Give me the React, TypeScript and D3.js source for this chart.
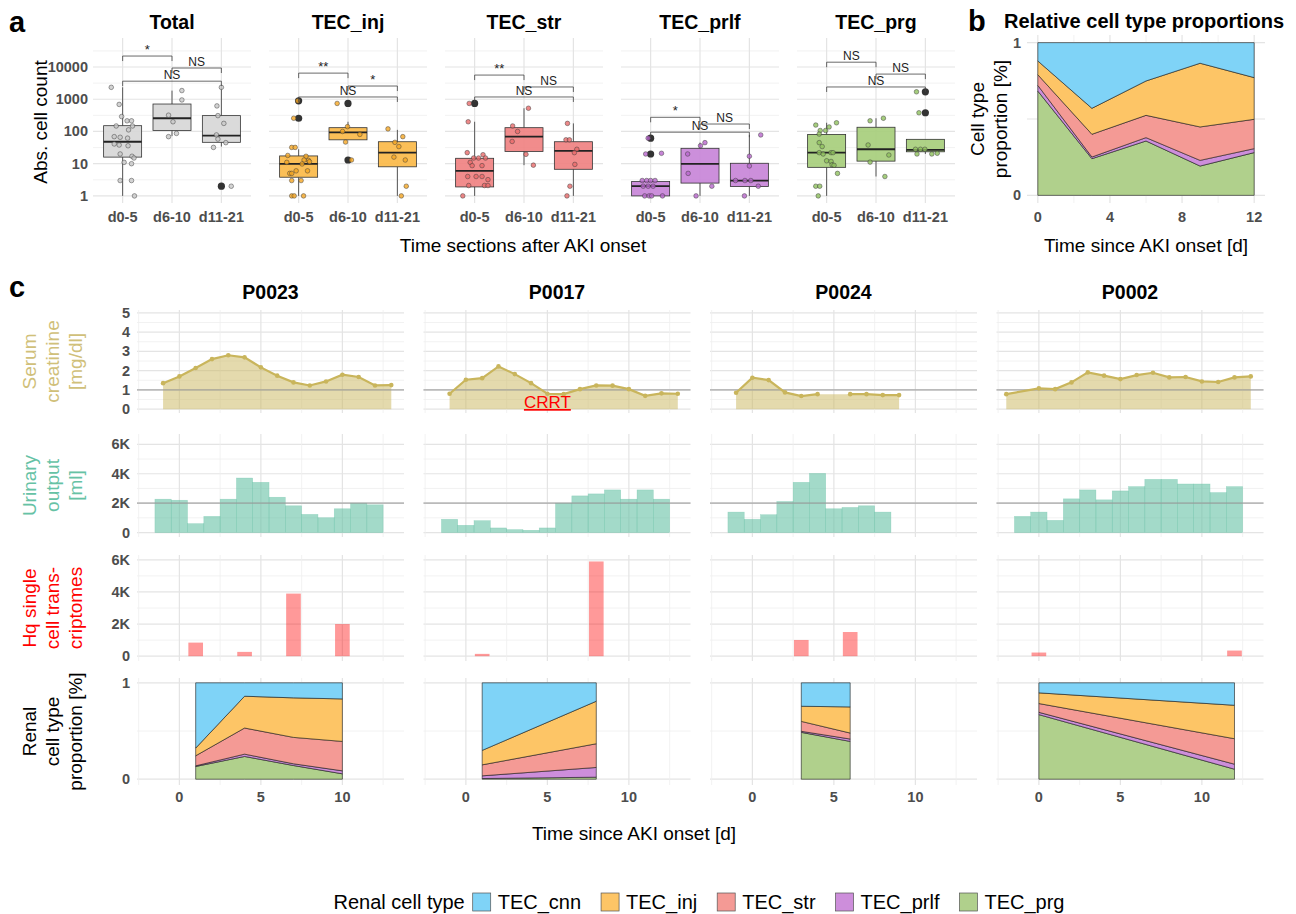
import React from 'react';
import * as d3 from 'd3';

const FONT = '"Liberation Sans", Arial, Helvetica, sans-serif';
const TICK_COLOR = '#4d4d4d';
const GRID_MAJOR = '#e4e4e4';
const GRID_MINOR = '#efefef';

// ---------------- Panel a data ----------------
const BOX_PANELS = ['Total', 'TEC_inj', 'TEC_str', 'TEC_prlf', 'TEC_prg'];
const TIME_GROUPS = ['d0-5', 'd6-10', 'd11-21'];
const LOG_TICKS = [1, 10, 100, 1000, 10000];
const LOG_MINOR = [10 ** 0.5, 10 ** 1.5, 10 ** 2.5, 10 ** 3.5, 10 ** 4.5];
const BOX_FILL = ['#d6d6d6', '#fbb845', '#ef7f7f', '#c683d7', '#a5cd79'];
const POINT_FILL = ['#c8c8c8', '#f5a623', '#e96a6a', '#b865cc', '#8fc05c'];

type Box = { lo: number; q1: number; med: number; q3: number; hi: number; out: number[] };

const BOX_TOTAL: Box[] = [
  { lo: 1, q1: 16, med: 48, q3: 151, hi: 2350, out: [] },
  { lo: 72, q1: 107, med: 257, q3: 710, hi: 1850, out: [] },
  { lo: 34, q1: 46, med: 74, q3: 310, hi: 2350, out: [2] },
];
const BOX_INJ: Box[] = [
  { lo: 1, q1: 3.8, med: 9.8, q3: 17.4, hi: 28, out: [890, 257] },
  { lo: 55, q1: 55, med: 94, q3: 131, hi: 200, out: [740, 13] },
  { lo: 1, q1: 8, med: 22, q3: 48, hi: 112, out: [] },
];
const BOX_STR: Box[] = [
  { lo: 1, q1: 1.9, med: 6, q3: 14.7, hi: 200, out: [740] },
  { lo: 9, q1: 24, med: 69, q3: 131, hi: 525, out: [] },
  { lo: 1, q1: 6.7, med: 25, q3: 48, hi: 178, out: [] },
];
const BOX_PRLF: Box[] = [
  { lo: 1, q1: 1, med: 2, q3: 2.8, hi: 3, out: [62, 20] },
  { lo: 1, q1: 2.5, med: 9.8, q3: 30, hi: 45, out: [] },
  { lo: 1, q1: 1.95, med: 3, q3: 10.3, hi: 78, out: [] },
];
const BOX_PRG: Box[] = [
  { lo: 1, q1: 7.7, med: 22, q3: 81, hi: 186, out: [] },
  { lo: 4, q1: 12, med: 28, q3: 135, hi: 257, out: [] },
  { lo: 20, q1: 23.4, med: 27, q3: 57, hi: 57, out: [1700, 380] },
];

// jittered points: [horizontal jitter (fraction of category spacing), count]
const PTS_TOTAL: [number, number][][] = [
  [[-0.23, 2340], [-0.07, 690], [-0.02, 290], [-0.13, 148], [0.09, 214], [0.18, 214], [0.2, 148], [0.12, 112], [-0.17, 69], [-0.05, 66], [0.1, 62], [-0.17, 41], [-0.07, 38], [0.11, 36], [-0.05, 20], [0.19, 17], [0.23, 15], [0.03, 11], [0.18, 10], [-0.05, 3], [0.18, 3], [0.24, 1]],
  [[0.2, 1860], [0.2, 950], [-0.07, 320], [0.02, 200], [0.09, 87], [-0.07, 69]],
  [[0, 2340], [-0.09, 620], [-0.07, 310], [0.05, 178], [-0.1, 78], [-0.07, 58], [0.09, 45], [-0.16, 32], [0.2, 2]],
];
const PTS_INJ: [number, number][][] = [
  [[-0.02, 890], [-0.1, 257], [-0.14, 32], [-0.07, 32], [-0.22, 18], [0.15, 17], [0.2, 12.6], [0.11, 13], [0.07, 9.8], [-0.24, 11], [0.22, 11.5], [-0.05, 6], [-0.18, 5], [-0.14, 5], [0.18, 6], [-0.14, 3], [0.05, 3], [-0.14, 1], [-0.09, 1], [0.1, 1]],
  [[-0.22, 740], [-0.01, 141], [-0.11, 100], [0.24, 81], [-0.05, 47], [0.07, 13]],
  [[-0.19, 120], [-0.05, 46], [0.11, 69], [0.03, 34], [-0.07, 16], [0.16, 13], [0.18, 2], [0.08, 1]],
];
const PTS_STR: [number, number][][] = [
  [[-0.11, 740], [-0.13, 200], [-0.15, 22], [0.17, 19], [0.22, 15], [-0.02, 15], [0.08, 15], [-0.09, 11], [0.15, 8.7], [-0.05, 8.7], [-0.14, 4], [0.03, 4], [0.15, 4], [0.27, 3.2], [-0.12, 2.1], [0.2, 2.1], [0.27, 2.1], [-0.24, 1]],
  [[0.09, 525], [-0.23, 148], [-0.13, 100], [-0.24, 49], [0.04, 19.5], [0.19, 9]],
  [[-0.12, 178], [-0.15, 55], [-0.08, 55], [0.07, 28], [0.02, 22], [0.03, 9.5], [-0.07, 2], [-0.13, 1]],
];
const PTS_PRLF: [number, number][][] = [
  [[-0.05, 62], [-0.1, 20], [0.22, 21], [-0.17, 3], [-0.08, 3], [0, 3], [0.09, 3], [-0.15, 2], [-0.05, 2], [0.05, 2], [-0.12, 1], [-0.03, 1], [0.02, 1], [0.24, 1]],
  [[0.1, 45], [0.01, 36], [-0.25, 20], [-0.24, 5], [0.24, 2], [-0.08, 1]],
  [[0.23, 78], [0, 17], [0, 8.5], [-0.28, 3], [-0.09, 3], [0.03, 3], [0.18, 2], [-0.1, 1]],
];
const PTS_PRG: [number, number][][] = [
  [[0.2, 186], [-0.22, 158], [0.05, 138], [-0.13, 107], [-0.02, 107], [-0.15, 83], [-0.15, 45], [-0.09, 34], [-0.15, 22], [-0.07, 20], [0.09, 22], [0.13, 22], [0, 12.3], [0.09, 11.7], [0.11, 9.3], [0.15, 8.9], [0.22, 5], [-0.22, 2], [-0.14, 2], [-0.17, 1]],
  [[-0.12, 214], [0.15, 257], [-0.16, 38], [0.26, 18.6], [-0.12, 11.2], [0.18, 4]],
  [[-0.18, 1700], [-0.13, 380], [-0.2, 28], [-0.1, 28], [-0.01, 28], [-0.17, 20], [0.13, 20], [0.24, 21]],
];

// significance brackets: [from group, to group, label, level (count)]
const SIG_TOTAL: [number, number, string, number][] = [[0, 1, '*', 21900], [1, 2, 'NS', 9300], [0, 2, 'NS', 3630]];
const SIG_INJ: [number, number, string, number][] = [[0, 1, '**', 6460], [1, 2, '*', 2570], [0, 2, 'NS', 1175]];
const SIG_STR: [number, number, string, number][] = [[0, 1, '**', 5620], [1, 2, 'NS', 2400], [0, 2, 'NS', 1175]];
const SIG_PRLF: [number, number, string, number][] = [[0, 1, '*', 275], [1, 2, 'NS', 170], [0, 2, 'NS', 95]];
const SIG_PRG: [number, number, string, number][] = [[0, 1, 'NS', 14100], [1, 2, 'NS', 6030], [0, 2, 'NS', 2400]];

const BOXES = [BOX_TOTAL, BOX_INJ, BOX_STR, BOX_PRLF, BOX_PRG];
const POINTS = [PTS_TOTAL, PTS_INJ, PTS_STR, PTS_PRLF, PTS_PRG];
const SIGS = [SIG_TOTAL, SIG_INJ, SIG_STR, SIG_PRLF, SIG_PRG];

// ---------------- Cell types ----------------
const CELL_TYPES = ['TEC_cnn', 'TEC_inj', 'TEC_str', 'TEC_prlf', 'TEC_prg'];
const CELL_COLORS = ['#7fd3f7', '#fdc566', '#f49a95', '#cd8edb', '#b0d08c'];
const STACK_KEYS = ['TEC_prg', 'TEC_prlf', 'TEC_str', 'TEC_inj', 'TEC_cnn'];
const colorOf = (k: string) => CELL_COLORS[CELL_TYPES.indexOf(k)];

// ---------------- Panel b data ----------------
// rows: [day, prg, prlf, str, inj, cnn]
const PROP_ALL: number[][] = [
  [0, 0.683, 0.037, 0.07, 0.09, 0.12],
  [3, 0.24, 0.011, 0.149, 0.17, 0.43],
  [6, 0.356, 0.022, 0.146, 0.225, 0.251],
  [9, 0.192, 0.037, 0.219, 0.417, 0.135],
  [12, 0.28, 0.026, 0.192, 0.273, 0.229],
];
const B_X_TICKS = [0, 4, 8, 12];
const B_X_MINOR = [2, 6, 10];

// ---------------- Panel c data ----------------
const PATIENTS = ['P0023', 'P0017', 'P0024', 'P0002'];

const CREA_P0023: [number, number | null][] = [[-1, 1.35], [0, 1.70], [1, 2.14], [2, 2.60], [3, 2.80], [4, 2.69], [5, 2.17], [6, 1.74], [7, 1.39], [8, 1.23], [9, 1.44], [10, 1.79], [11, 1.67], [12, 1.23], [13, 1.25]];
const CREA_P0017: [number, number | null][] = [[-1, 0.80], [0, 1.53], [1, 1.61], [2, 2.22], [3, 1.82], [4, 1.35], [5, 0.80], [6, 0.78], [7, 1.04], [8, 1.23], [9, 1.22], [10, 1.04], [11, 0.69], [12, 0.82], [13, 0.80]];
const CREA_P0024: [number, number | null][] = [[-1, 0.85], [0, 1.63], [1, 1.51], [2, 0.87], [3, 0.68], [4, 0.78], [5, null], [6, 0.78], [7, 0.78], [8, 0.73], [9, 0.73]];
const CREA_P0002: [number, number | null][] = [[-2, 0.78], [0, 1.08], [1, 1.04], [2, 1.39], [3, 1.91], [4, 1.74], [5, 1.56], [6, 1.77], [7, 1.89], [8, 1.65], [9, 1.67], [10, 1.44], [11, 1.41], [12, 1.65], [13, 1.70]];

const URINE_P0023: [number, number][] = [[-1, 2270], [0, 2200], [1, 607], [2, 1100], [3, 2270], [4, 3708], [5, 3416], [6, 2404], [7, 1820], [8, 1236], [9, 1011], [10, 1618], [11, 2000], [12, 1888]];
const URINE_P0017: [number, number][] = [[-1, 900], [0, 494], [1, 809], [2, 315], [3, 202], [4, 157], [5, 315], [6, 2000], [7, 2494], [8, 2629], [9, 2900], [10, 2270], [11, 2900], [12, 2270]];
const URINE_P0024: [number, number][] = [[-1, 1393], [0, 900], [1, 1213], [2, 2112], [3, 3416], [4, 4022], [5, 1618], [6, 1708], [7, 1820], [8, 1393]];
const URINE_P0002: [number, number][] = [[-1, 1100], [0, 1393], [1, 831], [2, 2292], [3, 2900], [4, 2225], [5, 2831], [6, 3124], [7, 3618], [8, 3618], [9, 3303], [10, 3303], [11, 2719], [12, 3124]];

const HQ_P0023: [number, number][] = [[1, 845], [4, 268], [7, 3897], [10, 2000]];
const HQ_P0017: [number, number][] = [[1, 144], [8, 5897]];
const HQ_P0024: [number, number][] = [[3, 1010], [6, 1505]];
const HQ_P0002: [number, number][] = [[0, 227], [12, 350]];

// rows: [day, prg, prlf, str, inj, cnn]
const PROP_P0023: number[][] = [
  [1, 0.132, 0.007, 0.104, 0.08, 0.677],
  [4, 0.236, 0.024, 0.271, 0.33, 0.139],
  [7, 0.142, 0.018, 0.274, 0.41, 0.156],
  [10, 0.056, 0.031, 0.305, 0.441, 0.167],
];
const PROP_P0017: number[][] = [
  [1, 0.007, 0.028, 0.114, 0.15, 0.701],
  [8, 0.021, 0.101, 0.246, 0.441, 0.191],
];
const PROP_P0024: number[][] = [
  [3, 0.486, 0.011, 0.103, 0.157, 0.243],
  [6, 0.392, 0.025, 0.062, 0.271, 0.25],
];
const PROP_P0002: number[][] = [
  [0, 0.67, 0.024, 0.091, 0.111, 0.104],
  [12, 0.104, 0.052, 0.264, 0.347, 0.233],
];

const CREA = [CREA_P0023, CREA_P0017, CREA_P0024, CREA_P0002];
const URINE = [URINE_P0023, URINE_P0017, URINE_P0024, URINE_P0002];
const HQ = [HQ_P0023, HQ_P0017, HQ_P0024, HQ_P0002];
const PROPS = [PROP_P0023, PROP_P0017, PROP_P0024, PROP_P0002];

const C_X_MAJOR = [0, 5, 10];
const C_X_MINOR = [-2.5, 2.5, 7.5, 12.5];
const CREA_TICKS = [0, 1, 2, 3, 4, 5];
const CREA_MINOR = [0.5, 1.5, 2.5, 3.5, 4.5];
const K_TICKS = [0, 2000, 4000, 6000];
const K_MINOR = [1000, 3000, 5000];
const PROP_TICKS = [0, 1];
const PROP_MINOR = [0.5];

const CREA_COLOR = '#c9b55c';
const URINE_COLOR = '#66c2a5';
const HQ_COLOR = '#ff0000';

const ROW_LABELS = [
  { lines: ['Serum', 'creatinine', '[mg/dl]'], color: '#d0c07a' },
  { lines: ['Urinary', 'output', '[ml]'], color: '#66c2a5' },
  { lines: ['Hq single', 'cell trans-', 'criptomes'], color: '#ff0000' },
  { lines: ['Renal', 'cell type', 'proportion [%]'], color: '#000000' },
];

const kfmt = (v: number) => (v === 0 ? '0' : `${v / 1000}K`);

function toStack(rows: number[][]) {
  const objs = rows.map((r) => {
    const o: any = { day: r[0] };
    STACK_KEYS.forEach((k, i) => (o[k] = r[i + 1]));
    return o;
  });
  return d3.stack().keys(STACK_KEYS)(objs as any);
}

// ---------------- Panel a ----------------
function BoxPanel({ i }: { i: number }) {
  const left = 93 + i * 176;
  const width = 158;
  const x = d3.scaleLinear().domain([0.4, 3.6]).range([left, left + width]);
  const y = d3.scaleLog().domain([10 ** -0.22, 10 ** 4.9]).range([203, 38]);
  const step = x(2) - x(1);
  const half = 0.385 * step;
  const boxes = BOXES[i];
  const pts = POINTS[i];
  return (
    <g>
      {LOG_MINOR.map((v) => (
        <line key={'mn' + v} x1={left} x2={left + width} y1={y(v)} y2={y(v)} stroke={GRID_MINOR} strokeWidth={0.8} />
      ))}
      {LOG_TICKS.map((v) => (
        <line key={'mj' + v} x1={left} x2={left + width} y1={y(v)} y2={y(v)} stroke={GRID_MAJOR} strokeWidth={1.2} />
      ))}
      {TIME_GROUPS.map((g, gi) => (
        <line key={g} x1={x(gi + 1)} x2={x(gi + 1)} y1={38} y2={203} stroke={GRID_MAJOR} strokeWidth={1.2} />
      ))}
      <text x={left + width / 2} y={29} textAnchor="middle" fontWeight="bold" fontSize={19.5} fill="#000">
        {BOX_PANELS[i]}
      </text>
      {i === 0 &&
        LOG_TICKS.map((v) => (
          <text key={'yl' + v} x={88} y={y(v) + 5} textAnchor="end" fontWeight="bold" fontSize={14.5} fill={TICK_COLOR}>
            {v}
          </text>
        ))}
      {TIME_GROUPS.map((g, gi) => (
        <text key={'xl' + g} x={x(gi + 1)} y={222} textAnchor="middle" fontWeight="bold" fontSize={14.5} fill={TICK_COLOR}>
          {g}
        </text>
      ))}
      {boxes.map((b, gi) => {
        const cx = x(gi + 1);
        return (
          <g key={'b' + gi}>
            <line x1={cx} x2={cx} y1={y(b.q3)} y2={y(b.hi)} stroke="#333" strokeWidth={0.8} />
            <line x1={cx} x2={cx} y1={y(b.q1)} y2={y(b.lo)} stroke="#333" strokeWidth={0.8} />
            <rect x={cx - half} y={y(b.q3)} width={2 * half} height={Math.max(0.5, y(b.q1) - y(b.q3))} fill={BOX_FILL[i]} fillOpacity={0.9} stroke="#333" strokeWidth={0.8} />
            <line x1={cx - half} x2={cx + half} y1={y(b.med)} y2={y(b.med)} stroke="#222" strokeWidth={1.8} />
            {b.out.map((o, oi) => (
              <circle key={oi} cx={cx} cy={y(o)} r={3.6} fill="#333" />
            ))}
          </g>
        );
      })}
      {pts.map((grp, gi) =>
        grp.map(([jx, v], pi) => (
          <circle key={gi + '-' + pi} cx={x(gi + 1 + jx)} cy={y(v)} r={2.3} fill={POINT_FILL[i]} fillOpacity={0.8} stroke="#3a3a3a" strokeOpacity={0.8} strokeWidth={0.6} />
        ))
      )}
      {SIGS[i].map(([a, b, lab, lv], si) => {
        const yy = y(lv);
        const x1 = x(a + 1);
        const x2 = x(b + 1);
        return (
          <g key={'s' + si}>
            <path d={`M${x1},${yy + 5}V${yy}H${x2}V${yy + 5}`} fill="none" stroke="#444" strokeWidth={0.8} />
            <text x={(x1 + x2) / 2} y={yy - 2} textAnchor="middle" fontSize={lab === 'NS' ? 12 : 13} fill="#222">
              {lab}
            </text>
          </g>
        );
      })}
    </g>
  );
}

// ---------------- Panel b ----------------
function PanelB() {
  const x = d3.scaleLinear().domain([-0.6, 12.6]).range([1027, 1265]);
  const y = d3.scaleLinear().domain([-0.05, 1.05]).range([203, 35]);
  const series = toStack(PROP_ALL);
  const area = d3
    .area<any>()
    .x((d) => x(d.data.day))
    .y0((d) => y(d[0]))
    .y1((d) => y(d[1]));
  return (
    <g>
      {[0, 0.5, 1].map((v) => (
        <line key={'hj' + v} x1={1027} x2={1265} y1={y(v)} y2={y(v)} stroke={GRID_MAJOR} strokeWidth={1.2} />
      ))}
      {B_X_MINOR.map((v) => (
        <line key={'vm' + v} x1={x(v)} x2={x(v)} y1={35} y2={203} stroke={GRID_MINOR} strokeWidth={0.8} />
      ))}
      {B_X_TICKS.map((v) => (
        <line key={'vj' + v} x1={x(v)} x2={x(v)} y1={35} y2={203} stroke={GRID_MAJOR} strokeWidth={1.2} />
      ))}
      {series.map((s: any) => (
        <path key={s.key} d={area(s) || ''} fill={colorOf(s.key)} stroke="#1a1a1a" strokeWidth={0.6} strokeLinejoin="round" />
      ))}
      {[0, 1].map((v) => (
        <text key={'yl' + v} x={1021} y={y(v) + 5} textAnchor="end" fontWeight="bold" fontSize={14.5} fill={TICK_COLOR}>
          {v}
        </text>
      ))}
      {B_X_TICKS.map((v) => (
        <text key={'xl' + v} x={x(v)} y={222} textAnchor="middle" fontWeight="bold" fontSize={14.5} fill={TICK_COLOR}>
          {v}
        </text>
      ))}
      <text x={968} y={31} fontWeight="bold" fontSize={29} fill="#000">b</text>
      <text x={1004} y={28} fontWeight="bold" fontSize={20} fill="#000">Relative cell type proportions</text>
      <text transform={`translate(977,119) rotate(-90)`} textAnchor="middle" dominantBaseline="central" fontSize={19} fill="#000">
        Cell type
      </text>
      <text transform={`translate(1000,119) rotate(-90)`} textAnchor="middle" dominantBaseline="central" fontSize={19} fill="#000">
        proportion [%]
      </text>
      <text x={1146} y={252} textAnchor="middle" fontSize={19} fill="#000">
        Time since AKI onset [d]
      </text>
    </g>
  );
}

// ---------------- Panel c ----------------
const ROWS = [
  { domain: [-0.2, 5.15], range: [413, 310], ticks: CREA_TICKS, minor: CREA_MINOR, fmt: (v: number) => String(v) },
  { domain: [-300, 6700], range: [537, 434], ticks: K_TICKS, minor: K_MINOR, fmt: kfmt },
  { domain: [-300, 6300], range: [661, 555], ticks: K_TICKS, minor: K_MINOR, fmt: kfmt },
  { domain: [-0.06, 1.05], range: [785, 678], ticks: PROP_TICKS, minor: PROP_MINOR, fmt: (v: number) => String(v) },
];

function PatientColumn({ j }: { j: number }) {
  const left = 137 + j * 286.5;
  const width = 267;
  const x = d3.scaleLinear().domain([-2.6, 13.78]).range([left, left + width]);
  const ys = ROWS.map((r) => d3.scaleLinear().domain(r.domain).range(r.range));

  const crea = CREA[j];
  const creaDefined = crea.filter((d) => d[1] !== null) as [number, number][];
  const creaArea = d3
    .area<[number, number]>()
    .x((d) => x(d[0]))
    .y0(ys[0](0))
    .y1((d) => ys[0](d[1]));
  const creaLine = d3
    .line<[number, number | null]>()
    .defined((d) => d[1] !== null)
    .x((d) => x(d[0]))
    .y((d) => ys[0](d[1] as number));

  const series = toStack(PROPS[j]);
  const propArea = d3
    .area<any>()
    .x((d) => x(d.data.day))
    .y0((d) => ys[3](d[0]))
    .y1((d) => ys[3](d[1]));

  return (
    <g>
      {ROWS.map((r, ri) => {
        const y = ys[ri];
        const top = r.range[1];
        const bot = r.range[0];
        return (
          <g key={'grid' + ri}>
            {r.minor.map((v) => (
              <line key={'hm' + v} x1={left} x2={left + width} y1={y(v)} y2={y(v)} stroke={GRID_MINOR} strokeWidth={0.8} />
            ))}
            {r.ticks.map((v) => (
              <line key={'hj' + v} x1={left} x2={left + width} y1={y(v)} y2={y(v)} stroke={GRID_MAJOR} strokeWidth={1.2} />
            ))}
            {C_X_MINOR.map((v) => (
              <line key={'vm' + v} x1={x(v)} x2={x(v)} y1={top} y2={bot} stroke={GRID_MINOR} strokeWidth={0.8} />
            ))}
            {C_X_MAJOR.map((v) => (
              <line key={'vj' + v} x1={x(v)} x2={x(v)} y1={top} y2={bot} stroke={GRID_MAJOR} strokeWidth={1.2} />
            ))}
            {j === 0 &&
              r.ticks.map((v) => (
                <text key={'yl' + v} x={130} y={y(v) + 5} textAnchor="end" fontWeight="bold" fontSize={14.5} fill={TICK_COLOR}>
                  {r.fmt(v)}
                </text>
              ))}
          </g>
        );
      })}

      {/* row 1: serum creatinine */}
      <path d={creaArea(creaDefined) || ''} fill={CREA_COLOR} fillOpacity={0.5} />
      <line x1={left} x2={left + width} y1={ys[0](1)} y2={ys[0](1)} stroke="#9a9a9a" strokeOpacity={0.6} strokeWidth={1.6} />
      <path d={creaLine(crea) || ''} fill="none" stroke={CREA_COLOR} strokeWidth={2.2} />
      {creaDefined.map((d, k) => (
        <circle key={'cp' + k} cx={x(d[0])} cy={ys[0](d[1])} r={2.3} fill={CREA_COLOR} />
      ))}
      {j === 1 && (
        <text x={x(5)} y={408} textAnchor="middle" fontSize={17} fill="#ff0000" style={{ textDecoration: 'underline' }}>
          CRRT
        </text>
      )}

      {/* row 2: urinary output */}
      {URINE[j].map(([d, v]) => (
        <rect key={'u' + d} x={x(d - 0.5)} width={x(d + 0.5) - x(d - 0.5)} y={ys[1](v)} height={ys[1](0) - ys[1](v)} fill={URINE_COLOR} fillOpacity={0.6} stroke={URINE_COLOR} strokeOpacity={0.5} strokeWidth={0.5} />
      ))}
      <line x1={left} x2={left + width} y1={ys[1](2000)} y2={ys[1](2000)} stroke="#9a9a9a" strokeOpacity={0.6} strokeWidth={1.6} />

      {/* row 3: hq transcriptomes */}
      {HQ[j].map(([d, v]) => (
        <rect key={'h' + d} x={x(d - 0.45)} width={x(d + 0.45) - x(d - 0.45)} y={ys[2](v)} height={ys[2](0) - ys[2](v)} fill={HQ_COLOR} fillOpacity={0.4} />
      ))}

      {/* row 4: proportions */}
      {series.map((s: any) => (
        <path key={s.key} d={propArea(s) || ''} fill={colorOf(s.key)} stroke="#1a1a1a" strokeWidth={0.6} strokeLinejoin="round" />
      ))}

      {C_X_MAJOR.map((v) => (
        <text key={'xl' + v} x={x(v)} y={802} textAnchor="middle" fontWeight="bold" fontSize={14.5} fill={TICK_COLOR}>
          {v}
        </text>
      ))}
      <text x={left + width / 2} y={299} textAnchor="middle" fontWeight="bold" fontSize={19.5} fill="#000">
        {PATIENTS[j]}
      </text>
    </g>
  );
}

function PanelC() {
  const lineX = [29, 52, 75];
  return (
    <g>
      <text x={9} y={297} fontWeight="bold" fontSize={29} fill="#000">c</text>
      {PATIENTS.map((_, j) => (
        <PatientColumn key={j} j={j} />
      ))}
      {ROW_LABELS.map((rl, ri) => {
        const cy = (ROWS[ri].range[0] + ROWS[ri].range[1]) / 2;
        return rl.lines.map((ln, li) => (
          <text key={ri + '-' + li} transform={`translate(${lineX[li]},${cy}) rotate(-90)`} textAnchor="middle" dominantBaseline="central" fontSize={19} fill={rl.color}>
            {ln}
          </text>
        ));
      })}
      <text x={634} y={840} textAnchor="middle" fontSize={19} fill="#000">
        Time since AKI onset [d]
      </text>
    </g>
  );
}

// ---------------- Legend ----------------
function measure(s: string, font: string) {
  const c = document.createElement('canvas').getContext('2d');
  if (!c) return s.length * 9;
  c.font = font;
  return c.measureText(s).width;
}

function Legend() {
  const fs = 20;
  const font = `${fs}px ${FONT}`;
  const title = 'Renal cell type';
  const key = 18;
  const gapTitle = 8;
  const gapKey = 7;
  const gapItem = 20;
  const tw = measure(title, font);
  const widths = CELL_TYPES.map((c) => measure(c, font));
  const total = tw + gapTitle + widths.reduce((a, w) => a + key + gapKey + w, 0) + gapItem * (CELL_TYPES.length - 1);
  let cur = 699 - total / 2;
  const cy = 902;
  const items: any[] = [];
  items.push(
    <text key="title" x={cur} y={cy + 7} fontSize={fs} fill="#000">
      {title}
    </text>
  );
  cur += tw + gapTitle;
  CELL_TYPES.forEach((c, i) => {
    items.push(<rect key={'k' + c} x={cur} y={cy - key / 2} width={key} height={key} fill={CELL_COLORS[i]} stroke="#555" strokeWidth={0.7} />);
    cur += key + gapKey;
    items.push(
      <text key={'t' + c} x={cur} y={cy + 7} fontSize={fs} fill="#000">
        {c}
      </text>
    );
    cur += widths[i] + gapItem;
  });
  return <g>{items}</g>;
}

export default function App() {
  return (
    <svg width={1296} height={914} style={{ position: 'absolute', left: 0, top: 0, display: 'block', background: '#fff' }} fontFamily={FONT}>
      <rect width={1296} height={914} fill="#fff" />
      <text x={9} y={32} fontWeight="bold" fontSize={29} fill="#000">a</text>
      {BOX_PANELS.map((_, i) => (
        <BoxPanel key={i} i={i} />
      ))}
      <text transform="translate(40,122) rotate(-90)" textAnchor="middle" dominantBaseline="central" fontSize={19} fill="#000">
        Abs. cell count
      </text>
      <text x={523} y={252} textAnchor="middle" fontSize={19} fill="#000">
        Time sections after AKI onset
      </text>
      <PanelB />
      <PanelC />
      <Legend />
    </svg>
  );
}
